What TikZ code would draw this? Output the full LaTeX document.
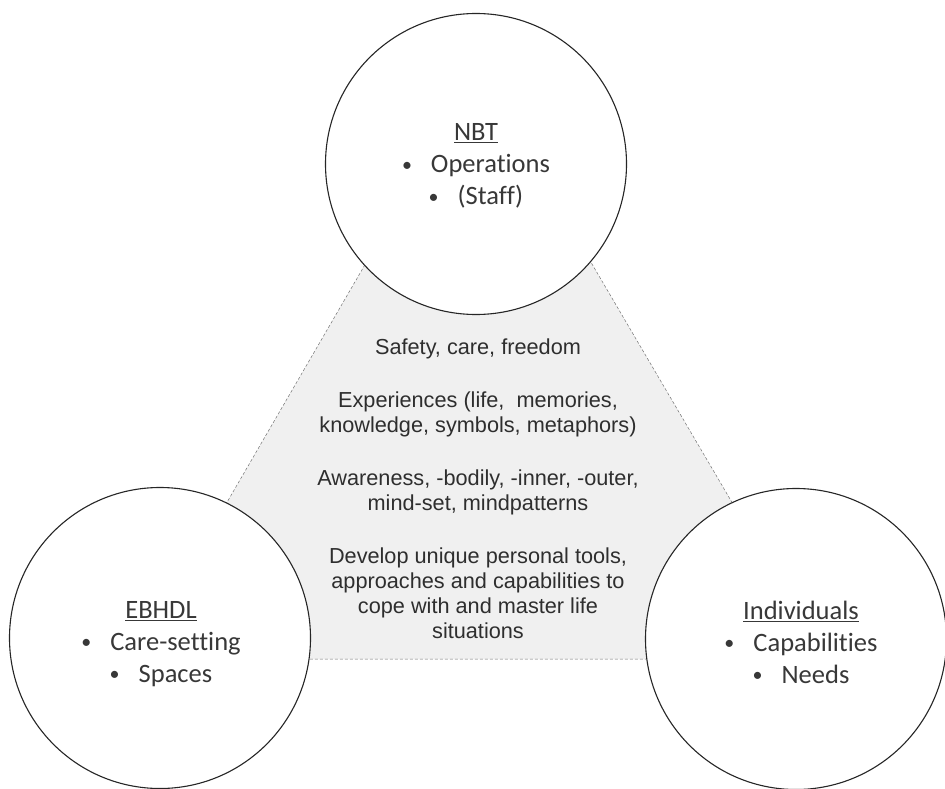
\documentclass[tikz,border=0pt]{standalone}
\usepackage{fontspec}
\setmainfont{Carlito}[Ligatures={NoCommon}]
\newfontfamily\arialf{Liberation Sans}
\newcommand{\bul}{\raisebox{1.5pt}{\fontsize{20}{20}\selectfont\textbullet}\hspace{19pt}}
\begin{document}
\begin{tikzpicture}[x=1pt,y=-1pt,
  bubble/.style={circle, draw=black!85, line width=1.1pt, fill=white, minimum size=301pt, inner sep=0pt},
  bubtext/.style={align=center, text=black!78, font=\fontsize{26.5}{32}\selectfont},
  midtext/.style={align=center, text=black!82, font=\arialf\fontsize{21.7}{25}\selectfont},
  zone/.style={draw=black!55, fill=black!6, dash pattern=on 3pt off 2pt, line width=0.5pt}]
\useasboundingbox (0,0) rectangle (945,789);
\coordinate (apex) at (478,70);
\coordinate (bl) at (136,659);
\coordinate (br) at (824,659);
\draw[zone] (apex) -- (bl) -- (br) -- cycle;
\node[bubble] (nbt) at (476,164) {};
\node[bubble] (ebhdl) at (160,638) {};
\node[bubble] (ind) at (796,639) {};
\node[bubtext] (nbtt) at (476,166) {\underline{NBT}\\ \bul Operations\\ \bul (Staff)};
\node[bubtext] (ebhdlt) at (161,644) {\underline{EBHDL}\\ \bul Care-setting\\ \bul Spaces};
\node[bubtext] (indt) at (801,642) {\underline{Individuals}\\ \bul Capabilities\\ \bul Needs};
\node[midtext] (mid) at (478,489) {Safety, care, freedom\\[28pt]
Experiences (life,\ \ memories,\\ knowledge, symbols, metaphors)\\[28pt]
Awareness, -bodily, -inner, -outer,\\ mind-set, mindpatterns\\[28pt]
Develop unique personal tools,\\ approaches and capabilities to\\ cope with and master life\\ situations};
\end{tikzpicture}
\end{document}
